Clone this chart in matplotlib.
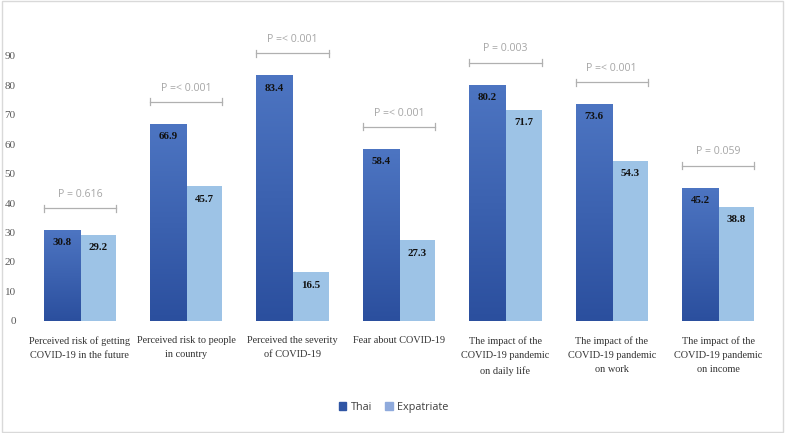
import numpy as np
import matplotlib
matplotlib.use("Agg")
import matplotlib.pyplot as plt
from matplotlib.patches import Patch, Rectangle
from matplotlib.colors import LinearSegmentedColormap

categories = [
    "Perceived risk of getting\nCOVID-19 in the future",
    "Perceived risk to people\nin country",
    "Perceived the severity\nof COVID-19",
    "Fear about COVID-19",
    "The impact of the\nCOVID-19 pandemic\non daily life",
    "The impact of the\nCOVID-19 pandemic\non work",
    "The impact of the\nCOVID-19 pandemic\non income",
]
thai = [30.8, 66.9, 83.4, 58.4, 80.2, 73.6, 45.2]
expat = [29.2, 45.7, 16.5, 27.3, 71.7, 54.3, 38.8]
p_labels = ["P = 0.616", "P =< 0.001", "P =< 0.001", "P =< 0.001",
            "P = 0.003", "P =< 0.001", "P = 0.059"]

serif = ["Liberation Serif", "DejaVu Serif"]
sans = ["Open Sans", "DejaVu Sans"]

fig = plt.figure(figsize=(7.87, 4.33), dpi=100)
ax = fig.add_axes([0.034, 0.259, 0.946, 0.680])

x = np.arange(len(categories))
w = 0.34
bars_t = ax.bar(x - w / 2, thai, w, color="#3a62b4", zorder=2)
bars_e = ax.bar(x + w / 2, expat, w, color="#9dc3e6", zorder=2)

# gradient fill on Thai bars (lighter top, darker bottom)
grad = np.linspace(0, 1, 256).reshape(-1, 1)
cmap = LinearSegmentedColormap.from_list("g", ["#2b4f9e", "#4d75c2"])
for b in bars_t:
    bx, by = b.get_x(), b.get_y()
    im = ax.imshow(grad, cmap=cmap, aspect="auto", origin="lower",
                   extent=[bx, bx + b.get_width(), by, by + b.get_height()], zorder=3)
    im.set_clip_path(b)

for i in range(len(x)):
    ax.text(x[i] - w / 2, thai[i] - 2.8, f"{thai[i]}", ha="center", va="top",
            fontsize=7.8, fontweight="bold", family=serif, color="#111111", zorder=4)
    ax.text(x[i] + w / 2, expat[i] - 2.8, f"{expat[i]}", ha="center", va="top",
            fontsize=7.8, fontweight="bold", family=serif, color="#111111", zorder=4)
    yb = max(thai[i], expat[i]) + 7.5
    ax.plot([x[i] - w, x[i] + w], [yb, yb], color="#b0b0b0", lw=0.9, zorder=2)
    for xe in (x[i] - w, x[i] + w):
        ax.plot([xe, xe], [yb - 1.2, yb + 1.2], color="#b0b0b0", lw=0.9, zorder=2)
    ax.text(x[i], yb + 2.8, p_labels[i], ha="center", va="bottom",
            fontsize=7.6, family=sans, color="#a6a6a6")

ax.set_xlim(-0.5, len(categories) - 0.5)
ax.set_ylim(0, 100)
ax.set_yticks(range(0, 100, 10))
ax.set_xticks(x)
ax.set_xticklabels(categories, family=serif, fontsize=7.4, color="#333333", linespacing=1.75)
for lab in ax.get_yticklabels():
    lab.set_family(serif)
ax.tick_params(axis="y", length=0, labelsize=8, labelcolor="#595959", pad=8)
ax.tick_params(axis="x", length=0, pad=11)
for s in ax.spines.values():
    s.set_visible(False)

handles = [Patch(color="#2f55a4", label="Thai"), Patch(color="#8faadc", label="Expatriate")]
fig.legend(handles=handles, loc="center", bbox_to_anchor=(0.5, 0.06), ncol=2,
           frameon=False, prop={"family": sans, "size": 7.8},
           handlelength=0.7, handleheight=0.7, handletextpad=0.4, columnspacing=1.2,
           labelcolor="#404040")

fig.patches.append(Rectangle((0.002, 0.003), 0.993, 0.994, transform=fig.transFigure,
                             fill=False, edgecolor="#d9d9d9", lw=1))

fig.savefig("out.png", dpi=100)
